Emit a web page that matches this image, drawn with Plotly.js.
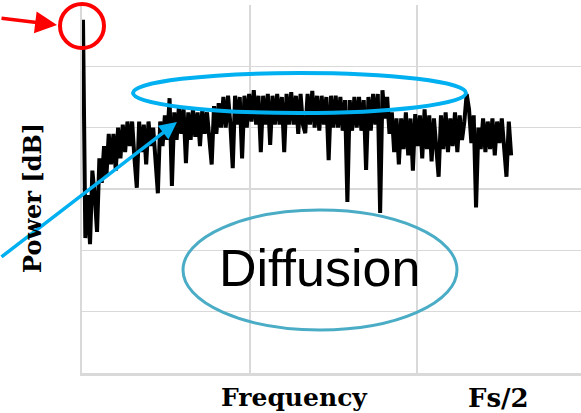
<!DOCTYPE html>
<html>
<head>
<meta charset="utf-8">
<script src="https://cdn.plot.ly/plotly-3.0.1.min.js"></script>
<style>html,body{margin:0;padding:0;background:#fff;}#chart{width:581px;height:413px;}</style>
</head>
<body>
<div id="chart"></div>
<script>
// Frequency bin spacing (kHz) of the spectrum
const binWidthKHz = 0.07;

// Power spectrum values in dB, one per frequency bin
const powerDb = [
  -2.4, -38, -31, -39, -27, -31, -37, -25, -29, -23,
  -28, -21, -26, -21, -27, -20, -25, -19.5, -24, -19,
  -23, -19, -25, -29.8, -19, -24, -19.5, -26, -19, -23,
  -20, -25, -30.7, -19, -23, -18, -22, -15.2, -29.5, -17.5,
  -22, -16.5, -21, -17, -25.8, -17.5, -22, -17, -21.5, -17.5,
  -23, -17, -21, -17.5, -21, -26, -16.5, -21, -16, -20,
  -15, -20, -14.8, -19.5, -26.6, -14.8, -19.5, -15, -25, -14.8,
  -20, -14.5, -19, -13.9, -19.5, -14.8, -24, -14.8, -19.5, -14.5,
  -22.8, -14.8, -19.5, -14.5, -19.5, -15, -24, -14.5, -19.5, -14.2,
  -19.5, -14.8, -21, -14.5, -19.5, -20.9, -14.5, -19.5, -14, -20,
  -14.8, -20.5, -14.8, -19.5, -15, -25.3, -14.8, -20, -14.8, -20,
  -15, -20.5, -15.5, -32.1, -15.5, -20.5, -15, -20, -15, -20.5,
  -15.5, -26.9, -15, -20.5, -14.5, -19.5, -14.5, -33.9, -13.9, -18.5,
  -15, -21, -17.5, -24, -18.5, -26, -18.5, -23.5, -17.5, -24.5,
  -18.5, -27, -17.8, -23, -18, -25, -17, -23.5, -18, -25.5,
  -18.5, -23, -28, -18, -23.5, -17.5, -24, -18.5, -23, -17.5,
  -24, -18, -22, -19, -14.5, -17, -22.5, -18, -33, -20,
  -23.5, -18.5, -24, -19, -23.5, -18.5, -24.5, -19, -22.5, -18.5,
  -23.5, -28, -19, -24.5
];
const freqKHz = powerDb.map((_, i) => +(i * binWidthKHz).toFixed(3));

const axisLabels = { y: 'Power [dB]', x: 'Frequency', nyquist: 'Fs/2' };
const noteText = 'Diffusion';

const gridColor = '#d9d9d9';
const serifFamily = 'DejaVu Serif, Liberation Serif, serif';

const trace = {
  x: freqKHz,
  y: powerDb,
  type: 'scatter',
  mode: 'lines',
  line: { color: '#000', width: 4 },
  hoverinfo: 'skip'
};

// helpers to place decorations in paper coordinates from pixel positions
const L = 82, R = 581, T = 5, B = 373;
const px = v => (v - L) / (R - L);
const py = v => (B - v) / (B - T);

const layout = {
  width: 581, height: 413,
  margin: { l: L, r: 581 - R, t: T, b: 413 - B, pad: 0 },
  paper_bgcolor: '#fff', plot_bgcolor: '#fff',
  showlegend: false,
  xaxis: {
    range: [-0.03, 14.9], dtick: 5, tick0: 0,
    showgrid: true, gridcolor: gridColor, gridwidth: 1.5,
    zeroline: false, showticklabels: false, ticks: '',
    showline: true, linecolor: gridColor, linewidth: 2.5, mirror: false
  },
  yaxis: {
    range: [-60, 0], dtick: 10, tick0: 0,
    showgrid: true, gridcolor: gridColor, gridwidth: 1.5,
    zeroline: false, showticklabels: false, ticks: '',
    showline: true, linecolor: gridColor, linewidth: 2.5
  },
  shapes: [
    { type: 'circle', xref: 'paper', yref: 'paper', layer: 'above',
      x0: px(60), x1: px(104), y0: py(48), y1: py(4),
      line: { color: '#ff0000', width: 4 } },
    { type: 'circle', xref: 'paper', yref: 'paper', layer: 'above',
      x0: px(133), x1: px(466), y0: py(113), y1: py(73),
      line: { color: '#00b0f0', width: 4 } },
    { type: 'circle', xref: 'paper', yref: 'paper', layer: 'above',
      x0: px(183), x1: px(457), y0: py(330), y1: py(210),
      line: { color: '#4bacc6', width: 3 } }
  ],
  annotations: [
    { xref: 'paper', yref: 'paper', x: px(57), y: py(25), text: '',
      showarrow: true, arrowhead: 2, arrowsize: 1.25, arrowwidth: 3.5, arrowcolor: '#ff0000',
      ax: -59, ay: -7, standoff: 0 },
    { xref: 'paper', yref: 'paper', x: px(177), y: py(122), text: '',
      showarrow: true, arrowhead: 2, arrowsize: 1.0, arrowwidth: 3.5, arrowcolor: '#00b0f0',
      ax: -181, ay: 136, standoff: 0 },
    { xref: 'paper', yref: 'paper', x: px(319), y: py(268), text: noteText,
      showarrow: false, xanchor: 'center', yanchor: 'middle',
      font: { family: 'Liberation Sans, Arial, sans-serif', size: 52, color: '#000' } },
    { xref: 'paper', yref: 'paper', x: px(33), y: py(198), text: axisLabels.y,
      showarrow: false, textangle: -90, xanchor: 'center', yanchor: 'middle',
      font: { family: serifFamily, size: 24, color: '#000', weight: 'bold' } },
    { xref: 'paper', yref: 'paper', x: px(294), y: py(398), text: axisLabels.x,
      showarrow: false, xanchor: 'center', yanchor: 'middle',
      font: { family: serifFamily, size: 25, color: '#000', weight: 'bold' } },
    { xref: 'paper', yref: 'paper', x: px(498), y: py(398), text: axisLabels.nyquist,
      showarrow: false, xanchor: 'center', yanchor: 'middle',
      font: { family: serifFamily, size: 26, color: '#000', weight: 'bold' } }
  ]
};

Plotly.newPlot('chart', [trace], layout, { staticPlot: true, displayModeBar: false });
</script>
</body>
</html>
